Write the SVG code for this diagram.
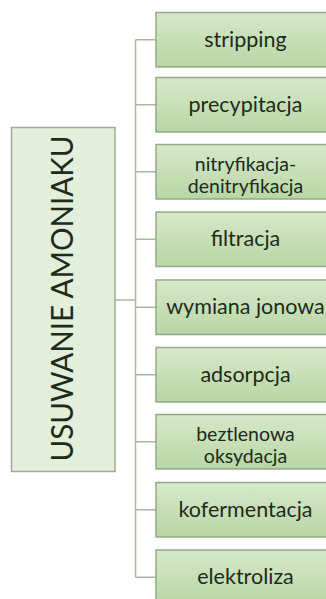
<svg xmlns="http://www.w3.org/2000/svg" width="326" height="599" viewBox="0 0 326 599">
<defs>
<linearGradient id="g" x1="0" y1="0" x2="0" y2="1">
<stop offset="0" stop-color="#d6e8ca"/>
<stop offset="1" stop-color="#b8d6a4"/>
</linearGradient>
<style>
.box{fill:url(#g);stroke:#93a987;stroke-width:1.5}
.main{fill:#e3efdb;stroke:#a2a99c;stroke-width:1.5}
.t{font-family:Lato,"Open Sans",sans-serif;font-size:21.5px;fill:#1e2a1a;text-anchor:middle}
.t2{font-family:Lato,"Open Sans",sans-serif;font-size:19.5px;fill:#1e2a1a;text-anchor:middle}
.mt{font-family:Lato,"Open Sans",sans-serif;font-size:30px;fill:#1e2a1a;text-anchor:middle}
.c{stroke:#a8b59f;stroke-width:1.5;fill:none}
</style>
</defs>
<rect width="326" height="599" fill="#ffffff"/>
<g id="connectors">
<path class="c" d="M115 300H135.5M135.5 39.75V577.25M135.5 39.75H156M135.5 104.75H156M135.5 171.75H156M135.5 239.25H156M135.5 307.25H156M135.5 374.75H156M135.5 441.75H156M135.5 509.75H156M135.5 577.25H156"/>
</g>
<g id="main">
<rect class="main" x="11.5" y="127.5" width="103.5" height="344"/>
<text class="mt" transform="translate(73,298.5) rotate(-90)" textLength="326" lengthAdjust="spacingAndGlyphs">USUWANIE AMONIAKU</text>
</g>
<g id="n1"><rect class="box" x="156" y="12.5" width="180" height="54.5"/><text class="t" x="245.5" y="46.75">stripping</text></g>
<g id="n2"><rect class="box" x="156" y="77.5" width="180" height="54.5"/><text class="t" x="245.5" y="111.75">precypitacja</text></g>
<g id="n3"><rect class="box" x="156" y="144.5" width="180" height="54.5"/><text class="t2" x="245.5" y="170.5">nitryfikacja-</text><text class="t2" x="245.5" y="193">denitryfikacja</text></g>
<g id="n4"><rect class="box" x="156" y="212" width="180" height="54.5"/><text class="t" x="245.5" y="246.25">filtracja</text></g>
<g id="n5"><rect class="box" x="156" y="280" width="180" height="54.5"/><text class="t" x="245.5" y="314.25">wymiana jonowa</text></g>
<g id="n6"><rect class="box" x="156" y="347.5" width="180" height="54.5"/><text class="t" x="245.5" y="381.75">adsorpcja</text></g>
<g id="n7"><rect class="box" x="156" y="414.5" width="180" height="54.5"/><text class="t2" x="245.5" y="440.5">beztlenowa</text><text class="t2" x="245.5" y="463">oksydacja</text></g>
<g id="n8"><rect class="box" x="156" y="482.5" width="180" height="54.5"/><text class="t" x="245.5" y="516.75">kofermentacja</text></g>
<g id="n9"><rect class="box" x="156" y="550" width="180" height="54.5"/><text class="t" x="245.5" y="584.25">elektroliza</text></g>
</svg>
